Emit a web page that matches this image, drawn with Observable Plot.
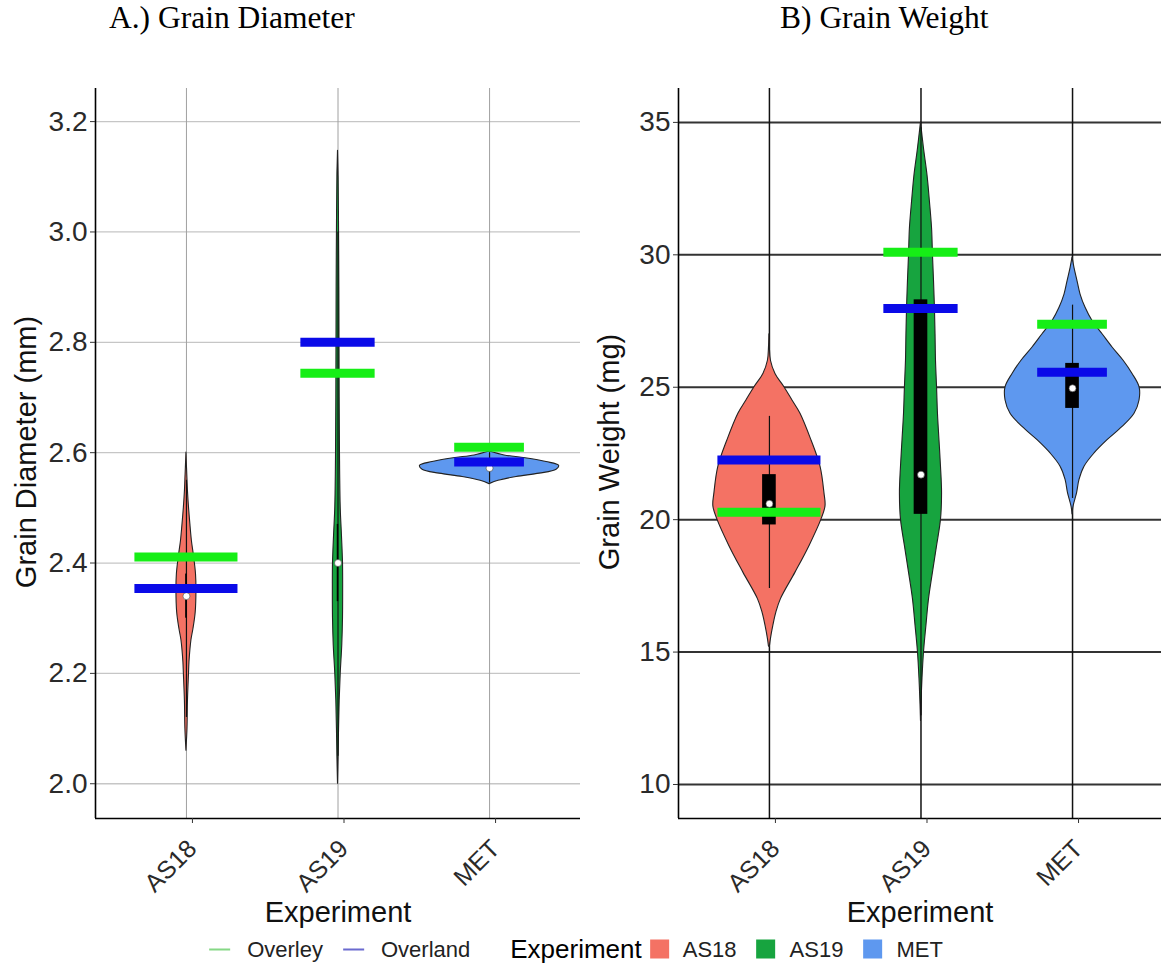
<!DOCTYPE html>
<html>
<head>
<meta charset="utf-8">
<script src="https://cdn.jsdelivr.net/npm/d3@7"></script>
<script src="https://cdn.jsdelivr.net/npm/@observablehq/plot@0.6"></script>
<style>
  body { margin: 0; background: #fff; overflow: hidden; }
  #page { position: relative; width: 1161px; height: 974px; font-family: "Liberation Sans", Arial, sans-serif; color: #000; }
  .title { position: absolute; top: 0px; font-family: "Liberation Serif", "Times New Roman", serif; font-size: 31.5px; white-space: nowrap; }
  .ytitle { position: absolute; font-size: 29px; white-space: nowrap; transform: translate(-50%, -50%) rotate(-90deg); color: #111; }
  .xtitle { position: absolute; font-size: 29px; white-space: nowrap; transform: translate(-50%, -50%); color: #111; }
  .panel { position: absolute; top: 60px; }
  #legend { position: absolute; top: 949px; left: 576px; transform: translate(-50%, -50%); display: flex; align-items: center; white-space: nowrap; font-size: 22px; color: #222; }
  #legend .legtitle { font-size: 26px; color: #000; }
  #legend .key { display: inline-block; width: 21px; height: 2px; }
  #legend .swatch { display: inline-block; width: 19px; height: 19px; }
</style>
</head>
<body>
<div id="page">
  <div class="title" style="left:109px">A.) Grain Diameter</div>
  <div class="title" style="left:780px">B) Grain Weight</div>
  <div class="ytitle" style="left:26px; top:452px">Grain Diameter (mm)</div>
  <div class="ytitle" style="left:609px; top:452px">Grain Weight (mg)</div>
  <div class="xtitle" style="left:338px; top:912px">Experiment</div>
  <div class="xtitle" style="left:920px; top:912px">Experiment</div>
  <div id="panelA" class="panel" style="left:0px"></div>
  <div id="panelB" class="panel" style="left:590px"></div>
  <div id="legend"></div>
</div>
<script>
// Experiments and their fill colours
const experiments = ["AS18", "AS19", "MET"];
const fillColors = ["#F47264", "#17A43F", "#5E98EF"];
const overleyColor = "#16EE16";
const overlandColor = "#0A0AE8";

// Grain diameter (mm): violin outline samples (value, half-width in category units)
const diaAS18Value = [2.60, 2.55, 2.53, 2.50, 2.47, 2.44, 2.41, 2.38, 2.35, 2.31, 2.28, 2.26, 2.22, 2.20, 2.15, 2.10, 2.06];
const diaAS18Half  = [0, .007, .010, .017, .026, .036, .051, .063, .066, .061, .046, .033, .020, .017, .010, .007, 0];
const diaAS19Value = [3.147, 3.10, 3.00, 2.90, 2.80, 2.70, 2.60, 2.50, 2.45, 2.40, 2.35, 2.30, 2.25, 2.20, 2.15, 2.10, 2.05, 2.00];
const diaAS19Half  = [0, .004, .007, .009, .010, .011, .013, .018, .026, .033, .034, .033, .028, .018, .011, .007, .004, 0];
const diaMETValue  = [2.602, 2.595, 2.590, 2.583, 2.576, 2.569, 2.562, 2.556, 2.549, 2.543];
const diaMETHalf   = [0, .099, .238, .376, .459, .442, .330, .178, .059, 0];

// Grain diameter box plot summaries (AS18, AS19, MET)
const diaWhiskerLow  = [2.12, 2.05, 2.545];
const diaBoxLow      = [2.30, 2.33, 2.566];
const diaMedian      = [2.34, 2.40, 2.572];
const diaBoxHigh     = [2.38, 2.47, 2.585];
const diaWhiskerHigh = [2.55, 3.00, 2.600];

// Grain diameter means by site
const overleyDiameter  = [2.411, 2.744, 2.610];
const overlandDiameter = [2.354, 2.800, 2.583];

// Grain weight (mg): violin outline samples
const wtAS18Value = [27.0, 26.5, 26.0, 25.5, 25.0, 24.5, 24.0, 23.0, 22.0, 21.0, 20.5, 20.0, 19.0, 18.0, 17.0, 16.5, 16.0, 15.5, 15.2];
const wtAS18Half  = [0, .003, .010, .040, .099, .152, .205, .277, .337, .363, .370, .343, .264, .172, .076, .046, .026, .010, .003];
const wtAS19Value = [35.0, 34, 33, 32, 31, 30, 29, 28, 27, 26, 25, 24, 23, 22, 21, 20, 19, 18, 17, 16, 15, 14, 13, 12.4];
const wtAS19Half  = [0, .020, .043, .059, .073, .079, .086, .092, .096, .099, .106, .112, .122, .132, .139, .132, .106, .079, .053, .036, .020, .010, .003, 0];
const wtMETValue  = [29.9, 29.5, 29.0, 28.5, 28.0, 27.5, 27.0, 26.5, 26.0, 25.5, 25.0, 24.5, 24.0, 23.5, 23.0, 22.5, 22.0, 21.5, 21.0, 20.5, 20.2];
const wtMETHalf   = [0, .013, .033, .053, .086, .132, .198, .264, .337, .396, .442, .442, .409, .330, .231, .145, .079, .046, .030, .007, 0];

// Grain weight box plot summaries
const wtWhiskerLow  = [17.4, 12.6, 20.8];
const wtBoxLow      = [19.8, 20.2, 24.2];
const wtMedian      = [20.6, 21.7, 24.96];
const wtBoxHigh     = [21.7, 28.3, 25.9];
const wtWhiskerHigh = [23.9, 34.8, 28.1];

// Grain weight means by site
const overleyWeight  = [20.28, 30.10, 27.38];
const overlandWeight = [22.25, 27.97, 25.57];

// Axis ticks
const diaTicks = [2.0, 2.2, 2.4, 2.6, 2.8, 3.0, 3.2];
const wtTicks = [10, 15, 20, 25, 30, 35];

// Legend entries
const siteNames = ["Overley", "Overland"];
const siteKeyColors = ["#86d886", "#6b6bcf"];

// Half-length of the site mean bars per experiment (category units)
const barHalf = [0.34, 0.245, 0.23];

function profile(values, halves, i) {
  return values.map((v, k) => ({v, w: halves[k], c: i + 1}));
}

function summaries(lo, q1, med, q3, hi) {
  return experiments.map((e, i) => ({c: i + 1, lo: lo[i], q1: q1[i], med: med[i], q3: q3[i], hi: hi[i]}));
}

function means(overley, overland) {
  return experiments.map((e, i) => ({c: i + 1, overley: overley[i], overland: overland[i], h: barHalf[i]}));
}

function panel(o) {
  return Plot.plot({
    width: o.width,
    height: 860,
    marginLeft: o.marginLeft,
    marginRight: o.marginRight,
    marginTop: 28,
    marginBottom: 102,
    x: {domain: o.xDomain},
    y: {domain: o.yDomain},
    style: {fontFamily: "'Liberation Sans', Arial, sans-serif", fontSize: "28px", color: "#2a2a2a", background: "transparent", overflow: "visible"},
    marks: [
      Plot.gridY(o.ticks, {stroke: o.gridH, strokeOpacity: 1, strokeWidth: o.gridHW}),
      Plot.gridX([1, 2, 3], {stroke: o.gridV, strokeOpacity: 1, strokeWidth: o.gridVW}),
      ...o.violins.map((p, i) => Plot.areaX(p, {
        y: "v", x1: d => d.c - d.w, x2: d => d.c + d.w,
        fill: fillColors[i], fillOpacity: 1, stroke: "#222", strokeWidth: 1.1, curve: "catmull-rom"
      })),
      Plot.ruleX(o.stats, {x: "c", y1: "lo", y2: "hi", stroke: "#111", strokeWidth: 1.2}),
      Plot.rect(o.stats, {x1: d => d.c - o.boxHalf, x2: d => d.c + o.boxHalf, y1: "q1", y2: "q3", fill: "#000"}),
      Plot.dot(o.stats, {x: "c", y: "med", r: 3.5, fill: "white", stroke: "#444", strokeWidth: 0.6}),
      Plot.ruleY(o.means, {y: "overley", x1: d => d.c - d.h, x2: d => d.c + d.h, stroke: overleyColor, strokeWidth: 9}),
      Plot.ruleY(o.means, {y: "overland", x1: d => d.c - d.h, x2: d => d.c + d.h, stroke: overlandColor, strokeWidth: 9}),
      Plot.ruleX([o.xDomain[0]], {stroke: "#000", strokeWidth: 1.6}),
      Plot.ruleY([o.yDomain[0]], {stroke: "#000", strokeWidth: 1.6}),
      Plot.axisY({ticks: o.ticks, tickFormat: o.tickFormat, tickSize: 5, tickPadding: 3, label: null, stroke: "#333", fill: "#2a2a2a"}),
      Plot.axisX({ticks: [1, 2, 3], tickFormat: i => experiments[i - 1], tickRotate: -45, tickSize: 5, tickPadding: 21, dx: 6, fontSize: 25, label: null, stroke: "#333", fill: "#2a2a2a"})
    ]
  });
}

const chartA = panel({
  width: 585, marginLeft: 95, marginRight: 5,
  xDomain: [0.4, 3.6], yDomain: [1.937, 3.26],
  ticks: diaTicks, tickFormat: d => d.toFixed(1),
  gridH: "#c6c6c6", gridHW: 1.3, gridV: "#a0a0a0", gridVW: 1,
  violins: [
    profile(diaAS18Value, diaAS18Half, 0),
    profile(diaAS19Value, diaAS19Half, 1),
    profile(diaMETValue, diaMETHalf, 2)
  ],
  stats: summaries(diaWhiskerLow, diaBoxLow, diaMedian, diaBoxHigh, diaWhiskerHigh),
  boxHalf: 0.005,
  means: means(overleyDiameter, overlandDiameter)
});

const chartB = panel({
  width: 571, marginLeft: 88, marginRight: 0,
  xDomain: [0.4, 3.587], yDomain: [8.716, 36.28],
  ticks: wtTicks, tickFormat: d => String(d),
  gridH: "#333", gridHW: 2, gridV: "#111", gridVW: 1.5,
  violins: [
    profile(wtAS18Value, wtAS18Half, 0),
    profile(wtAS19Value, wtAS19Half, 1),
    profile(wtMETValue, wtMETHalf, 2)
  ],
  stats: summaries(wtWhiskerLow, wtBoxLow, wtMedian, wtBoxHigh, wtWhiskerHigh),
  boxHalf: 0.045,
  means: means(overleyWeight, overlandWeight)
});

document.getElementById("panelA").appendChild(chartA);
document.getElementById("panelB").appendChild(chartB);

// Legend: site keys, then experiment fills
const legend = document.getElementById("legend");
function item(cls, text, style) {
  const el = document.createElement("span");
  el.className = cls;
  if (text) el.textContent = text;
  if (style) Object.assign(el.style, style);
  legend.appendChild(el);
}
siteNames.forEach((s, i) => {
  item("key", null, {background: siteKeyColors[i], marginLeft: i ? "20px" : "0", marginRight: "17px"});
  item("lab", s);
});
item("legtitle", "Experiment", {marginLeft: "40px", marginRight: "8px"});
experiments.forEach((e, i) => {
  item("swatch", null, {background: fillColors[i], marginLeft: i ? "20px" : "0", marginRight: "14px"});
  item("lab", e);
});
</script>
</body>
</html>
